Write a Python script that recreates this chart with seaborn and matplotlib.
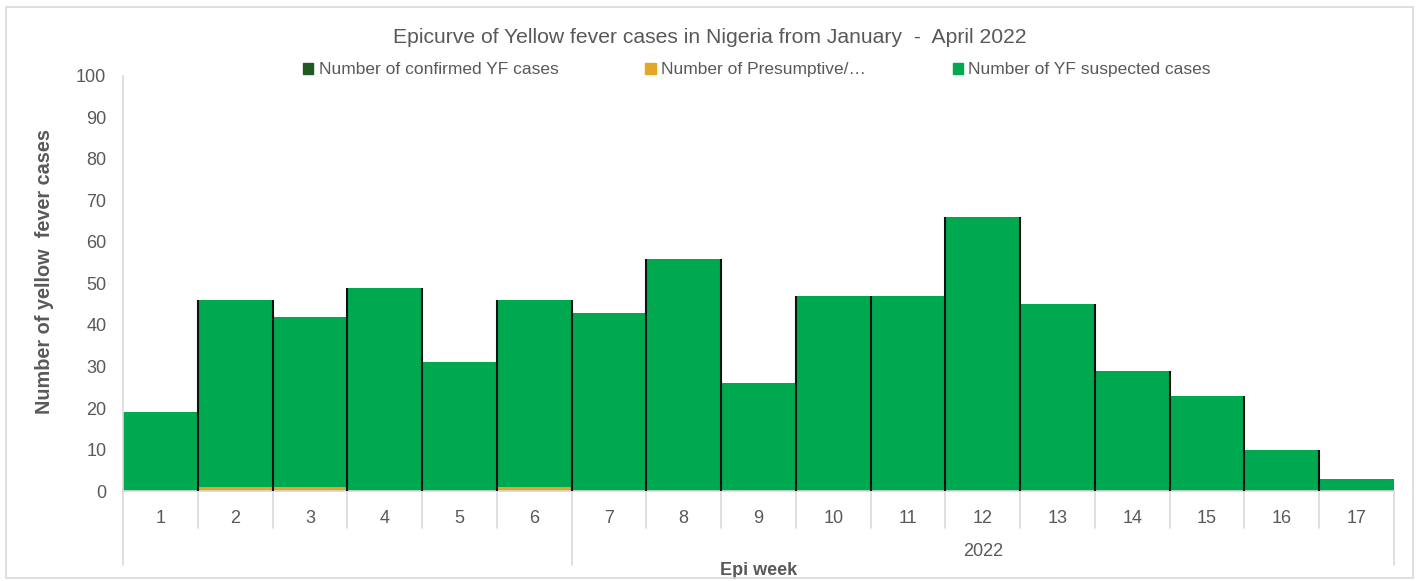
import matplotlib
matplotlib.use('Agg')
import matplotlib.pyplot as plt
import matplotlib.patches as mpatches
import matplotlib.transforms as mtransforms
import numpy as np
import pandas as pd
import seaborn as sns

# data
weeks       = [str(w) for w in range(1, 18)]
confirmed   = [0, 0, 0, 0, 0, 0, 0, 0, 0, 0, 0, 0, 0, 0, 0, 0, 0]
presumptive = [0, 1, 1, 0, 0, 1, 0, 0, 0, 0, 0, 0, 0, 0, 0, 0, 0]
suspected   = [19, 45, 41, 49, 31, 45, 43, 56, 26, 47, 47, 66, 45, 29, 23, 10, 3]
year_label  = '2022'
year_start  = 6   # index of first week under the "2022" group

legend_labels = ['Number of confirmed YF cases', 'Number of Presumptive/\u2026',
                 'Number of YF suspected cases']
colors = ['#1e5b22', '#e3a625', '#00a84f']
grey = '#595959'

sns.set_style('white')
plt.rcParams['font.family'] = ['Liberation Sans', 'DejaVu Sans']

df = pd.DataFrame({'week': weeks, 'conf': confirmed, 'pres': presumptive, 'susp': suspected})
df['lvl1'] = df['conf']
df['lvl2'] = df['conf'] + df['pres']
df['total'] = df['lvl2'] + df['susp']

fig = plt.figure(figsize=(14.2, 5.81), dpi=100)
ax = fig.add_axes([0.0866, 0.1549, 0.8951, 0.7143])

# stacked bars drawn as overlapping cumulative layers
sns.barplot(data=df, x='week', y='total', color=colors[2], width=1.0, linewidth=0,
            saturation=1, ax=ax)
sns.barplot(data=df, x='week', y='lvl2', color=colors[1], width=1.0, linewidth=0,
            saturation=1, ax=ax)
sns.barplot(data=df, x='week', y='lvl1', color=colors[0], width=1.0, linewidth=0,
            saturation=1, ax=ax)

# dark separators between neighbouring bars
tot = df['total'].to_numpy()
bx = np.arange(1, len(weeks)) - 0.5
ax.vlines(bx, 0, np.maximum(tot[:-1], tot[1:]), color='#111111', lw=1.5, zorder=3)

ax.set_xlim(-0.5, len(weeks) - 0.5)
ax.set_ylim(0, 100)
ax.set_yticks(range(0, 101, 10))
ax.tick_params(axis='both', length=0, labelsize=13, colors=grey)
ax.tick_params(axis='x', pad=14)
ax.tick_params(axis='y', pad=12)

for s in ['top', 'right']:
    ax.spines[s].set_visible(False)
for s in ['left', 'bottom']:
    ax.spines[s].set_color('#d9d9d9')
    ax.spines[s].set_linewidth(1.2)

# category table lines under the axis
trans = mtransforms.blended_transform_factory(ax.transData, ax.transAxes)
for i in range(len(weeks) + 1):
    xpos = i - 0.5
    long_line = i in (0, year_start, len(weeks))
    ax.plot([xpos, xpos], [0, -0.178 if long_line else -0.089], transform=trans,
            color='#d9d9d9', lw=1.2, clip_on=False)
ax.text((year_start - 0.5 + len(weeks) - 0.5) / 2, -0.145, year_label, transform=trans,
        ha='center', va='center', fontsize=13, color=grey)

ax.set_xlabel('Epi week', fontsize=13, fontweight='bold', color=grey, labelpad=25)
ax.set_ylabel('Number of yellow  fever cases', fontsize=14.3, fontweight='bold', color=grey,
              labelpad=16)
ax.yaxis.label.set_y(0.53)

fig.text(0.5, 0.936, 'Epicurve of Yellow fever cases in Nigeria from January  -  April 2022',
         ha='center', va='center', fontsize=15.2, color=grey)

handles = [mpatches.Patch(color=c) for c in colors]
fig.legend(handles, legend_labels, loc='center', bbox_to_anchor=(0.533, 0.88), ncol=3,
           frameon=False, fontsize=12.5, handlelength=0.6, handleheight=0.6,
           handletextpad=0.3, columnspacing=5.0, labelcolor=grey)

fig.patches.append(mpatches.Rectangle((0.004, 0.006), 0.991, 0.982, transform=fig.transFigure,
                                      fill=False, edgecolor='#d9d9d9', lw=1.2))

fig.savefig('out.png', dpi=100)
